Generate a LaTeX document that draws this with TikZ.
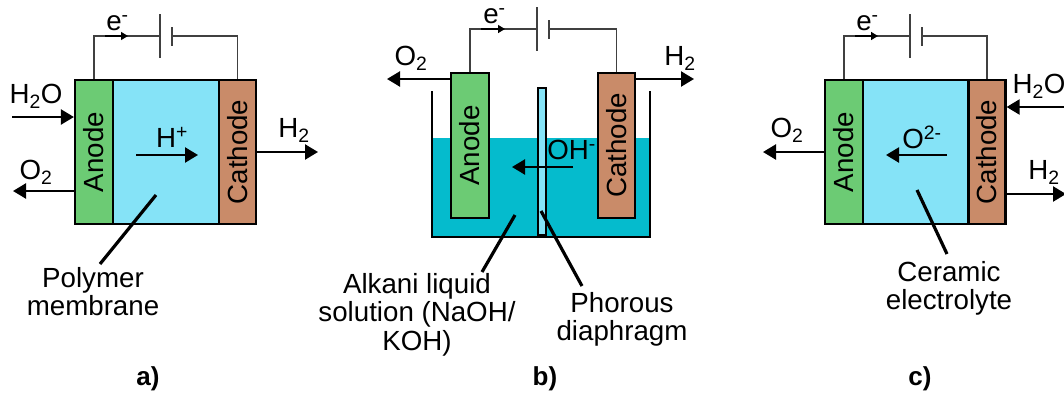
\documentclass[tikz,border=0pt]{standalone}
\usepackage{fontspec}
\usepackage{graphicx}
\setmainfont{Liberation Sans}
\usetikzlibrary{arrows.meta}
\definecolor{anodegreen}{HTML}{6CCB74}
\definecolor{cathodebrown}{HTML}{C98B69}
\definecolor{membraneblue}{HTML}{85E3F7}
\definecolor{liquidblue}{HTML}{05BBCD}
\definecolor{wiregray}{HTML}{404040}
\tikzset{
    cellbox/.style={draw=black, line width=2.2pt, inner sep=0pt, minimum height=144pt, text=black},
    anodebox/.style={cellbox, fill=anodegreen, minimum width=38pt},
    cathodebox/.style={cellbox, fill=cathodebrown, minimum width=37pt},
    plate/.style={fill=wiregray, inner sep=0pt, minimum width=1.5pt},
    wire/.style={draw=wiregray, line width=1.4pt},
    flow/.style={line width=2.3pt, -{Triangle[length=13pt, width=15pt]}},
    electron/.style={line width=1.4pt, -{Triangle[length=7pt, width=8pt]}},
    leader/.style={line width=3.2pt},
    label/.style={font=\fontsize{27.7}{28.4}\selectfont, inner sep=0pt, align=center},
    panel/.style={font=\fontsize{26}{26}\selectfont\bfseries, inner sep=0pt}
}
\begin{document}
\begin{tikzpicture}[x=1pt, y=-1pt]
    \useasboundingbox (0, 0) rectangle (1064, 394);

    % panel a
    \node[cellbox, fill=membraneblue, minimum width=106pt] (membraneA) at (166, 152) {};
    \node[anodebox] (anodeA) at (94, 152) {\rotatebox{90}{\fontsize{27.7}{27}\selectfont Anode}};
    \node[cathodebox] (cathodeA) at (237.5, 152) {\rotatebox{90}{\fontsize{27.7}{27}\selectfont Cathode}};
    \node[plate, minimum height=44pt] (longA) at (160, 36) {};
    \node[plate, minimum height=19pt] (shortA) at (172, 36) {};
    \draw[wire] (anodeA.north) |- (longA.west);
    \draw[wire] (shortA.east) -| (cathodeA.north);
    \coordinate (eleftA) at (105, 36);
    \coordinate (erightA) at (128, 36);
    \draw[electron] (eleftA) -- (erightA);
    \node[label] (eA) at (117.5, 23) {e\textsuperscript{-}};
    \coordinate (watertailA) at (12, 117);
    \draw[flow] (watertailA) -- (anodeA.west |- watertailA);
    \node[label] (waterA) at (36, 96) {H\textsubscript{2}O};
    \coordinate (oxygenendA) at (13, 191);
    \draw[flow] (anodeA.west |- oxygenendA) -- (oxygenendA);
    \node[label] (oxygenA) at (36, 172) {O\textsubscript{2}};
    \coordinate (hydrogenendA) at (318, 152);
    \draw[flow] (cathodeA.east |- hydrogenendA) -- (hydrogenendA);
    \node[label] (hydrogenA) at (294, 130) {H\textsubscript{2}};
    \coordinate (ionleftA) at (136, 155);
    \coordinate (ionrightA) at (198, 155);
    \draw[flow] (ionleftA) -- (ionrightA);
    \node[label] (ionA) at (172, 137) {H\textsuperscript{+}};
    \node[label] (polymerA) at (93, 291.5) {Polymer\\membrane};
    \coordinate (leadA) at (156, 195);
    \draw[leader] (leadA) -- (100, 264);

    % panel b
    \node[draw=none, fill=liquidblue, minimum width=218pt, minimum height=99pt, inner sep=0pt] (liquidB) at (541, 187.5) {};
    \coordinate (beakerleftB) at (432, 91);
    \coordinate (beakerrightB) at (650, 91);
    \draw[line width=2.2pt] (beakerleftB) |- (541, 237) -| (beakerrightB);
    \node[draw=black, line width=1.5pt, fill=membraneblue, minimum width=8pt, minimum height=147pt, inner sep=0pt] (diaphragmB) at (542, 161.5) {};
    \node[anodebox, minimum height=145pt] (anodeB) at (470, 145.5) {\rotatebox{90}{\fontsize{27.7}{27}\selectfont Anode}};
    \node[cathodebox, minimum height=145pt] (cathodeB) at (616.5, 145.5) {\rotatebox{90}{\fontsize{27.7}{27}\selectfont Cathode}};
    \node[plate, minimum height=44pt] (longB) at (537, 29) {};
    \node[plate, minimum height=19pt] (shortB) at (549, 29) {};
    \draw[wire] (anodeB.north) |- (longB.west);
    \draw[wire] (shortB.east) -| (cathodeB.north);
    \coordinate (eleftB) at (481, 29);
    \coordinate (erightB) at (505, 29);
    \draw[electron] (eleftB) -- (erightB);
    \node[label] (eB) at (494.5, 16) {e\textsuperscript{-}};
    \coordinate (oxygenendB) at (387, 79);
    \draw[flow] (anodeB.west |- oxygenendB) -- (oxygenendB);
    \node[label] (oxygenB) at (411, 58) {O\textsubscript{2}};
    \coordinate (hydrogenendB) at (694, 79);
    \draw[flow] (cathodeB.east |- hydrogenendB) -- (hydrogenendB);
    \node[label] (hydrogenB) at (680, 58) {H\textsubscript{2}};
    \coordinate (ionrightB) at (573, 167);
    \coordinate (ionleftB) at (512, 167);
    \draw[flow] (ionrightB) -- (ionleftB);
    \node[label] (ionB) at (571.5, 150) {OH\textsuperscript{-}};
    \node[label] (alkaliB) at (417, 314.5) {Alkani liquid\\solution (NaOH/\\KOH)};
    \node[label] (phorousB) at (622, 319.5) {Phorous\\diaphragm};
    \coordinate (leadliquidB) at (515, 215);
    \coordinate (leaddiaphragmB) at (541, 211);
    \draw[leader] (leadliquidB) -- (482, 272);
    \draw[leader] (leaddiaphragmB) -- (582, 286);

    % panel c
    \node[cellbox, fill=membraneblue, minimum width=106pt] (membraneC) at (916, 152) {};
    \node[anodebox] (anodeC) at (844, 152) {\rotatebox{90}{\fontsize{27.7}{27}\selectfont Anode}};
    \node[cathodebox] (cathodeC) at (987, 152) {\rotatebox{90}{\fontsize{27.7}{27}\selectfont Cathode}};
    \node[plate, minimum height=44pt] (longC) at (910, 36) {};
    \node[plate, minimum height=19pt] (shortC) at (922, 36) {};
    \draw[wire] (anodeC.north) |- (longC.west);
    \draw[wire] (shortC.east) -| (cathodeC.north);
    \coordinate (eleftC) at (855, 36);
    \coordinate (erightC) at (878, 36);
    \draw[electron] (eleftC) -- (erightC);
    \node[label] (eC) at (867.5, 23) {e\textsuperscript{-}};
    \coordinate (watertailC) at (1064, 107);
    \draw[flow] (watertailC) -- (cathodeC.east |- watertailC);
    \node[label] (waterC) at (1039, 86) {H\textsubscript{2}O};
    \coordinate (hydrogenendC) at (1066, 194);
    \draw[flow] (cathodeC.east |- hydrogenendC) -- (hydrogenendC);
    \node[label] (hydrogenC) at (1044, 172) {H\textsubscript{2}};
    \coordinate (oxygenendC) at (763, 152);
    \draw[flow] (anodeC.west |- oxygenendC) -- (oxygenendC);
    \node[label] (oxygenC) at (787, 130) {O\textsubscript{2}};
    \coordinate (ionrightC) at (947, 155);
    \coordinate (ionleftC) at (886, 155);
    \draw[flow] (ionrightC) -- (ionleftC);
    \node[label] (ionC) at (922, 137) {O\textsuperscript{2-}};
    \node[label] (ceramicC) at (949, 288.5) {Ceramic\\electrolyte};
    \coordinate (leadC) at (917, 190);
    \draw[leader] (leadC) -- (947, 254);

    \node[panel] (captionA) at (148, 379) {a)};
    \node[panel] (captionB) at (545, 379) {b)};
    \node[panel] (captionC) at (920, 379) {c)};
\end{tikzpicture}
\end{document}
